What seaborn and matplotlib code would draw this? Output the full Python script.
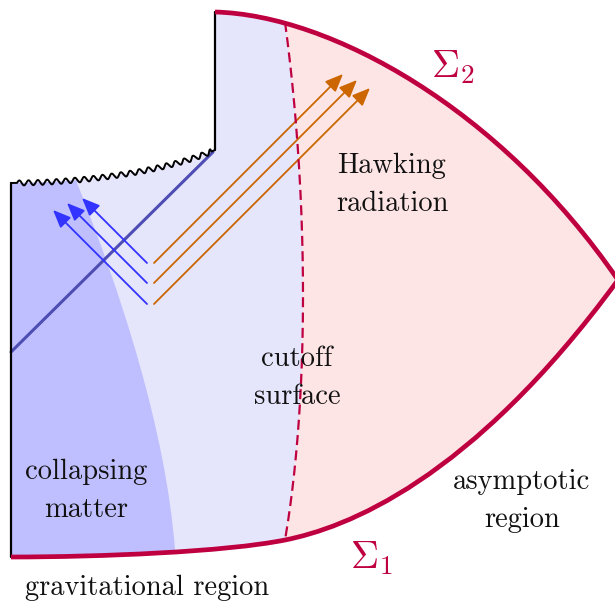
import numpy as np
import matplotlib
matplotlib.use("Agg")
import matplotlib.pyplot as plt
import seaborn as sns
import pandas as pd
from matplotlib.path import Path
from matplotlib.patches import PathPatch

# ---------------- data (diagram geometry in pixel coordinates) ----------------
sigma2_ctrl = [(215, 12), (330, 15), (500, 108), (618, 280)]
sigma1_near_ctrl = [(11, 557), (100, 557), (225, 552), (285, 540)]
sigma1_far_ctrl = [(285, 540), (345, 528), (470, 482), (618, 280)]
cutoff_ctrl = [(285, 22), (309, 200), (309, 400), (285, 540)]
matter_ctrl = [(77, 183), (120, 290), (166, 430), (175, 550)]
singularity_ctrl = [(11, 183), (90, 183), (170, 170), (215, 150)]
left_edge_x = [11, 11]
left_edge_y = [557, 183]
inner_edge_x = [215, 215]
inner_edge_y = [150, 12]
horizon_x = [11, 213]
horizon_y = [352, 152]
ray_start_y = [263, 283, 304]
blue_start_x = 147
blue_lengths = [65, 80, 94]
orange_start_x = 154
orange_lengths = [189, 203, 216]

labels = ["Hawking\nradiation", "cutoff\nsurface", "collapsing\nmatter",
          "asymptotic\nregion", "gravitational region"]
label_x = [392, 297, 86, 522, 147]
label_y = [185, 378, 491, 501, 588]
sigma_labels = [r"$\Sigma_2$", r"$\Sigma_1$"]
sigma_x = [453, 372]
sigma_y = [67, 558]

# ---------------- colours ----------------
CRIMSON = "#bf0040"
PINK = "#fee5e5"
LIGHT = "#e5e5fc"
DARK = "#bfbfff"
HORIZON = "#4d4db3"
BLUE = "#3333ff"
ORANGE = "#cc6600"

sns.set_theme(style="white")
plt.rcParams["font.family"] = ["cmr10", "DejaVu Serif"]
plt.rcParams["mathtext.fontset"] = "cm"
plt.rcParams["axes.unicode_minus"] = False

fig = plt.figure(figsize=(6.15, 6.03), dpi=100)
ax = fig.add_axes([0, 0, 1, 1])
ax.set_xlim(0, 615)
ax.set_ylim(603, 0)
ax.axis("off")


def bez(ctrl, n=400):
    p = np.array(ctrl, dtype=float)
    t = np.linspace(0, 1, n)[:, None]
    return ((1 - t) ** 3 * p[0] + 3 * (1 - t) ** 2 * t * p[1]
            + 3 * (1 - t) * t ** 2 * p[2] + t ** 3 * p[3])


C4 = Path.CURVE4
# whole region
verts = [sigma1_near_ctrl[0], (left_edge_x[1], left_edge_y[1]),
         *singularity_ctrl[1:], (inner_edge_x[1], inner_edge_y[1]),
         *sigma2_ctrl[1:], *sigma1_far_ctrl[::-1][1:], *sigma1_near_ctrl[::-1][1:],
         sigma1_near_ctrl[0]]
codes = [Path.MOVETO, Path.LINETO, C4, C4, C4, Path.LINETO, C4, C4, C4,
         C4, C4, C4, C4, C4, C4, Path.CLOSEPOLY]
shape = PathPatch(Path(verts, codes), facecolor=PINK, edgecolor="none", zorder=1)
ax.add_patch(shape)

# light blue: left of the cutoff surface
c0, c3 = cutoff_ctrl[0], cutoff_ctrl[3]
lv = [(c0[0], -100), c0, *cutoff_ctrl[1:], (c3[0], 800), (-100, 800), (-100, -100), (c0[0], -100)]
lc = [Path.MOVETO, Path.LINETO, C4, C4, C4, Path.LINETO, Path.LINETO, Path.LINETO, Path.CLOSEPOLY]
light = PathPatch(Path(lv, lc), facecolor=LIGHT, edgecolor="none", zorder=2)
ax.add_patch(light)
light.set_clip_path(shape)

# dark blue: collapsing matter
m0, m3 = matter_ctrl[0], matter_ctrl[3]
dv = [(m0[0], -100), m0, *matter_ctrl[1:], (m3[0], 800), (-100, 800), (-100, -100), (m0[0], -100)]
dark = PathPatch(Path(dv, lc), facecolor=DARK, edgecolor="none", zorder=3)
ax.add_patch(dark)
dark.set_clip_path(shape)

# horizon line
sns.lineplot(x=horizon_x, y=horizon_y, sort=False, estimator=None, ax=ax,
             color=HORIZON, lw=2.2, zorder=4)

# rays
for y0, L in zip(ray_start_y, blue_lengths):
    ax.annotate("", xy=(blue_start_x - L, y0 - L), xytext=(blue_start_x, y0),
                arrowprops=dict(arrowstyle="-|>,head_length=0.9,head_width=0.38",
                                color=BLUE, lw=1.3, shrinkA=0, shrinkB=0),
                zorder=5)
for y0, L in zip(ray_start_y, orange_lengths):
    ax.annotate("", xy=(orange_start_x + L, y0 - L), xytext=(orange_start_x, y0),
                arrowprops=dict(arrowstyle="-|>,head_length=0.9,head_width=0.38",
                                color=ORANGE, lw=1.3, shrinkA=0, shrinkB=0),
                zorder=5)

# cutoff surface (dashed)
cp = bez(cutoff_ctrl)
ax.plot(cp[:, 0], cp[:, 1], color=CRIMSON, lw=1.6, ls=(0, (4.5, 2.4)), zorder=6)

# black boundaries
sns.lineplot(x=left_edge_x, y=left_edge_y, sort=False, estimator=None, ax=ax,
             color="black", lw=1.6, zorder=7)
sns.lineplot(x=inner_edge_x, y=inner_edge_y, sort=False, estimator=None, ax=ax,
             color="black", lw=1.6, zorder=7)

# singularity (snake)
sp = bez(singularity_ctrl, 2000)
d = np.diff(sp, axis=0)
seg = np.hypot(d[:, 0], d[:, 1])
s = np.concatenate([[0], np.cumsum(seg)])
tang = np.gradient(sp, axis=0)
tang /= np.hypot(tang[:, 0], tang[:, 1])[:, None]
nrm = np.stack([tang[:, 1], -tang[:, 0]], axis=1)
total = s[-1]
amp = np.where((s > 6) & (s < total - 4), 2.5, 0.0)
off = amp * np.sin(2 * np.pi * (s - 6) / 9.3)
wig = sp + nrm * off[:, None]
ax.plot(wig[:, 0], wig[:, 1], color="black", lw=1.4, zorder=7)

# Sigma curves
ax.add_patch(PathPatch(Path(sigma2_ctrl, [Path.MOVETO, C4, C4, C4]), fill=False,
                       edgecolor=CRIMSON, lw=3.4, capstyle="butt", zorder=8))
s1v = [*sigma1_near_ctrl, *sigma1_far_ctrl[1:]]
ax.add_patch(PathPatch(Path(s1v, [Path.MOVETO, C4, C4, C4, C4, C4, C4]), fill=False,
                       edgecolor=CRIMSON, lw=3.4, capstyle="butt", zorder=8))

# texts
for t, x, y in zip(labels, label_x, label_y):
    ax.text(x, y, t, ha="center", va="center", fontsize=20.5, color="#111111",
            linespacing=1.58, zorder=9)
for t, x, y in zip(sigma_labels, sigma_x, sigma_y):
    ax.text(x, y, t, ha="center", va="center", fontsize=28, color=CRIMSON, zorder=9)

fig.savefig("out.png", dpi=100)
